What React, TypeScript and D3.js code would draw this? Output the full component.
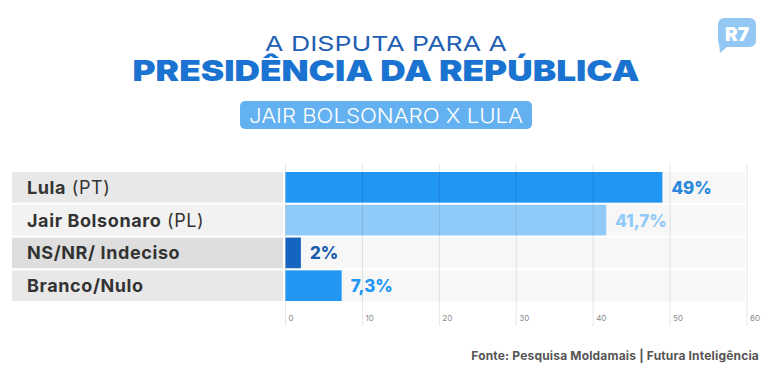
import { useEffect, useRef } from 'react';
import * as d3 from 'd3';

const categories = ['Lula', 'Jair Bolsonaro', 'NS/NR/ Indeciso', 'Branco/Nulo'];
const parties = ['(PT)', '(PL)', '', ''];
const values = [49, 41.7, 2, 7.3];
const valueLabels = ['49%', '41,7%', '2%', '7,3%'];
const ticks = [0, 10, 20, 30, 40, 50, 60];

const barColors = ['#2196f3', '#90caf9', '#1565c0', '#2196f3'];
const labelColors = ['#2a88dc', '#90caf9', '#1a5cad', '#2196f3'];
const rowBg = ['#e8e8e8', '#f2f2f2', '#dedede', '#e8e8e8'];

const W = 770;
const H = 373;
const FONT = 'Inter, "Open Sans", sans-serif';

const App = (): JSX.Element => {
  const svgRef = useRef<SVGSVGElement>(null);

  useEffect(() => {
    if (svgRef.current) svgRef.current.innerHTML = '';
    const svg = d3.select(svgRef.current);

    const x = d3.scaleLinear([0, 60], [285.5, 747]);
    const y = d3.scaleBand(categories, [172, 301]).paddingInner(0.065);

    // header
    svg
      .append('text')
      .attr('x', 386)
      .attr('y', 50.5)
      .attr('text-anchor', 'middle')
      .attr('font-family', FONT)
      .attr('font-size', 20.5)
      .attr('font-weight', 400)
      .attr('fill', '#1f5fb3')
      .attr('textLength', 242)
      .attr('lengthAdjust', 'spacingAndGlyphs')
      .text('A DISPUTA PARA A');

    svg
      .append('text')
      .attr('x', 386)
      .attr('y', 80.5)
      .attr('text-anchor', 'middle')
      .attr('font-family', FONT)
      .attr('font-size', 29)
      .attr('font-weight', 900)
      .attr('fill', '#1a73d0')
      .attr('textLength', 507)
      .attr('lengthAdjust', 'spacingAndGlyphs')
      .text('PRESIDÊNCIA DA REPÚBLICA');

    svg
      .append('rect')
      .attr('x', 240)
      .attr('y', 101)
      .attr('width', 292)
      .attr('height', 28)
      .attr('rx', 5)
      .attr('fill', '#64b1f1');

    svg
      .append('text')
      .attr('x', 386)
      .attr('y', 122.5)
      .attr('text-anchor', 'middle')
      .attr('font-family', FONT)
      .attr('font-size', 20)
      .attr('font-weight', 300)
      .attr('fill', '#ffffff')
      .attr('textLength', 274)
      .attr('lengthAdjust', 'spacingAndGlyphs')
      .text('JAIR BOLSONARO X LULA');

    // R7 logo
    const logo = svg.append('g');
    logo
      .append('path')
      .attr('d', 'M725,18 H749 Q756,18 756,25 V40 Q756,47 749,47 H727 L720,53 L719,44 Q718,42 718,40 V25 Q718,18 725,18 Z')
      .attr('fill', '#93c7f4');
    logo
      .append('text')
      .attr('x', 737)
      .attr('y', 41)
      .attr('text-anchor', 'middle')
      .attr('font-family', FONT)
      .attr('font-size', 19)
      .attr('font-weight', 900)
      .attr('fill', '#ffffff')
      .text('R7');

    // rows
    const rows = svg
      .append('g')
      .selectAll('g')
      .data(categories)
      .join('g');

    rows
      .append('rect')
      .attr('x', 12)
      .attr('y', (d) => y(d)!)
      .attr('width', 271)
      .attr('height', y.bandwidth())
      .attr('fill', (_, i) => rowBg[i]);

    rows
      .append('rect')
      .attr('x', x(0))
      .attr('y', (d) => y(d)!)
      .attr('width', x(60) - x(0) - 2)
      .attr('height', y.bandwidth())
      .attr('fill', '#f7f7f7');

    rows
      .append('text')
      .attr('x', 27)
      .attr('y', (d) => y(d)! + y.bandwidth() / 2 + 6.5)
      .attr('font-family', FONT)
      .attr('font-size', 18)
      .attr('letter-spacing', 0.6)
      .attr('fill', '#333333')
      .each(function (d, i) {
        const t = d3.select(this);
        t.append('tspan').attr('font-weight', 700).text(d);
        if (parties[i]) t.append('tspan').attr('font-weight', 400).text(' ' + parties[i]);
      });

    // bars
    svg
      .append('g')
      .selectAll('rect')
      .data(values)
      .join('rect')
      .attr('x', x(0))
      .attr('y', (_, i) => y(categories[i])!)
      .attr('width', (d) => x(d) - x(0))
      .attr('height', y.bandwidth())
      .attr('fill', (_, i) => barColors[i]);

    // grid
    svg
      .append('g')
      .selectAll('line')
      .data(ticks)
      .join('line')
      .attr('x1', (d) => x(d))
      .attr('x2', (d) => x(d))
      .attr('y1', 164)
      .attr('y2', 326)
      .attr('stroke', '#000')
      .attr('stroke-opacity', 0.1)
      .attr('stroke-width', 1);

    svg
      .append('g')
      .selectAll('text')
      .data(ticks)
      .join('text')
      .attr('x', (d) => x(d) + 3)
      .attr('y', 321)
      .attr('font-family', FONT)
      .attr('font-size', 8)
      .attr('fill', '#8a8a8a')
      .text((d) => d);

    // value labels
    svg
      .append('g')
      .selectAll('text')
      .data(values)
      .join('text')
      .attr('x', (d) => x(d) + 9)
      .attr('y', (_, i) => y(categories[i])! + y.bandwidth() / 2 + 6.5)
      .attr('font-family', FONT)
      .attr('font-size', 17)
      .attr('font-weight', 800)
      .attr('fill', (_, i) => labelColors[i])
      .text((_, i) => valueLabels[i]);

    // source
    svg
      .append('text')
      .attr('x', 759)
      .attr('y', 360)
      .attr('text-anchor', 'end')
      .attr('font-family', FONT)
      .attr('font-size', 12)
      .attr('font-weight', 700)
      .attr('letter-spacing', 0.18)
      .attr('fill', '#555555')
      .text('Fonte: Pesquisa Moldamais | Futura Inteligência');
  }, []);

  return (
    <svg
      ref={svgRef}
      width={W}
      height={H}
      viewBox={`0 0 ${W} ${H}`}
      style={{ position: 'absolute', left: 0, top: 0, background: '#fff' }}
    />
  );
};

export default App;
